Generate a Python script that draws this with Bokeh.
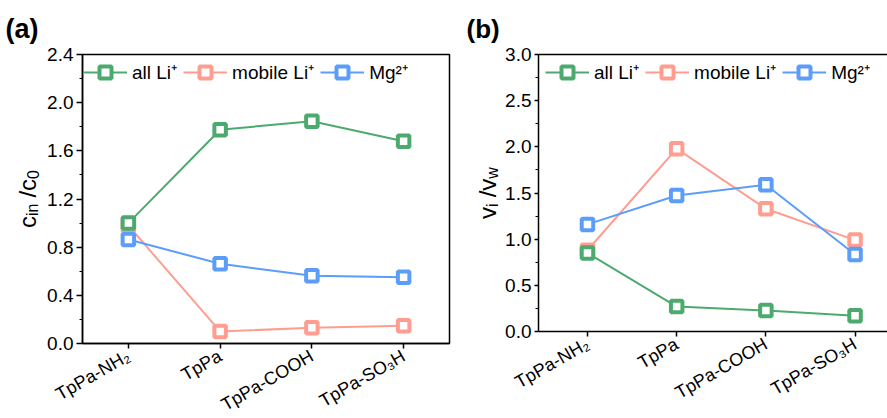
import math
from bokeh.plotting import figure
from bokeh.models import (Legend, LegendItem, Title, LinearAxis, FixedTicker,
                          PrintfTickFormatter, Range1d)
from bokeh.core.properties import value
from bokeh.layouts import row
from bokeh.embed import file_html
from bokeh.resources import INLINE

# ---------------- data ----------------
categories = ["TpPa-NH₂", "TpPa", "TpPa-COOH", "TpPa-SO₃H"]
series_names = ["all Li⁺", "mobile Li⁺", "Mg²⁺"]

# panel (a): c_in / c_0
a_all_li = [1.00, 1.775, 1.846, 1.68]
a_mobile_li = [0.98, 0.10, 0.13, 0.147]
a_mg = [0.864, 0.662, 0.562, 0.551]
a_yticks = [0.0, 0.4, 0.8, 1.2, 1.6, 2.0, 2.4]
a_yminor = [0.2, 0.6, 1.0, 1.4, 1.8, 2.2]

# panel (b): v_i / v_w
b_all_li = [0.85, 0.27, 0.227, 0.17]
b_mobile_li = [0.88, 1.98, 1.33, 0.99]
b_mg = [1.16, 1.473, 1.589, 0.834]
b_yticks = [0.0, 0.5, 1.0, 1.5, 2.0, 2.5, 3.0]
b_yminor = [0.25, 0.75, 1.25, 1.75, 2.25, 2.75]

GREEN = "#4DAA6F"
SALMON = "#FF9E90"
BLUE = "#5C9DFA"
FONT = "Liberation Sans"

CW = {"c": 0.5, "v": 0.5, "i": 0.222, "n": 0.556, "/": 0.278, "w": 0.722, "0": 0.556}


def text_w(s, size):
    return sum(CW.get(ch, 0.556) for ch in s) * size


def label_strip(tag, tag_off, tag_size, width, fh, bb, pieces, base_x):
    """Narrow figure holding the panel tag and the rotated y-axis title with subscripts."""
    s = figure(frame_width=width, frame_height=fh, x_range=Range1d(0, width),
               y_range=Range1d(0, fh), output_backend="svg", toolbar_location=None,
               min_border_left=0, min_border_right=0, min_border_top=54,
               min_border_bottom=bb, x_axis_location=None, y_axis_location=None,
               title=None)
    s.outline_line_color = None
    s.xgrid.visible = False
    s.ygrid.visible = False
    s.background_fill_color = "white"
    s.border_fill_color = "white"
    s.add_layout(Title(text=tag, align="left", offset=tag_off, text_font=FONT,
                       text_font_style="bold", text_font_size=f"{tag_size}px",
                       text_color="black", standoff=22), "above")
    total = sum(gap + text_w(t, sz) for t, sz, sub, gap in pieces)
    y = fh / 2 - total / 2
    for t, sz, sub, gap in pieces:
        y += gap
        s.text(x=[base_x + (5 if sub else 0)], y=[y], text=[t], angle=math.pi / 2,
               text_font=value(FONT), text_font_size=value(f"{sz}px"),
               text_color="black", text_align="left", text_baseline="alphabetic")
        y += text_w(t, sz)
    return s


def make_panel(vals, y_end, yticks, yminor, x_rng, fw, fh, bl, br, bb,
               legend_loc, ytick_out, boxed):
    x = list(range(len(categories)))
    p = figure(frame_width=fw, frame_height=fh, x_range=Range1d(*x_rng),
               y_range=Range1d(0, y_end), output_backend="svg", toolbar_location=None,
               min_border_left=bl, min_border_right=br, min_border_top=54,
               min_border_bottom=bb, title=None)
    p.xgrid.visible = False
    p.ygrid.visible = False
    p.background_fill_color = "white"
    p.border_fill_color = "white"

    xa = p.below[0]
    xa.ticker = FixedTicker(ticks=x, minor_ticks=[])
    xa.major_label_overrides = {i: c for i, c in zip(x, categories)}
    xa.major_label_orientation = math.radians(30)
    xa.major_tick_out = 5
    xa.major_tick_in = 0
    xa.axis_line_width = 1.5
    xa.major_tick_line_width = 1.5
    xa.major_label_text_font = FONT
    xa.major_label_text_font_size = "18px"
    xa.major_label_text_color = "black"
    xa.major_label_standoff = 6

    ya = p.left[0]
    ya.ticker = FixedTicker(ticks=yticks, minor_ticks=yminor)
    ya.formatter = PrintfTickFormatter(format="%.1f")
    ya.major_tick_out = ytick_out
    ya.major_tick_in = 0
    ya.minor_tick_out = 3
    ya.minor_tick_in = 0
    ya.axis_line_width = 1.5
    ya.major_tick_line_width = 1.5
    ya.minor_tick_line_width = 1.2
    ya.major_label_text_font = FONT
    ya.major_label_text_font_size = "19px"
    ya.major_label_text_color = "black"
    ya.major_label_standoff = 3

    if boxed:
        p.outline_line_color = "black"
        p.outline_line_width = 1.5
    else:
        p.outline_line_color = None
        top = LinearAxis(ticker=FixedTicker(ticks=[], minor_ticks=[]), axis_line_width=1.5,
                         axis_line_color="black", major_tick_line_color=None,
                         minor_tick_line_color=None, major_label_text_font_size="0px")
        p.add_layout(top, "above")

    colors = [GREEN, SALMON, BLUE]
    lines = {}
    for k in (1, 0, 2):
        lines[k] = p.line(x, vals[k], line_color=colors[k], line_width=2)
    marks = {}
    for k in (1, 0, 2):
        marks[k] = p.scatter(x, vals[k], marker="square", size=11.5, line_width=4,
                             line_color=colors[k], fill_color="white")

    items = [LegendItem(label=series_names[k], renderers=[lines[k], marks[k]]) for k in range(3)]
    leg = Legend(items=items, location=legend_loc, orientation="horizontal",
                 glyph_width=44, glyph_height=30, label_height=30, label_standoff=5,
                 spacing=6, padding=0, margin=0, background_fill_alpha=0,
                 border_line_color=None, label_text_font=FONT,
                 label_text_font_size="19px", label_text_color="black")
    p.add_layout(leg)
    return p


sa = label_strip("(a)", 5, 27, 44, 289, 75,
                 [("c", 24, False, 0), ("in", 16, True, 0), ("/c", 24, False, 6),
                  ("0", 16, True, 0)], 27)
pa = make_panel([a_all_li, a_mobile_li, a_mg], 2.4, a_yticks, a_yminor,
                (-0.5, 3.5), 367, 289, 38, 7, 75, (1, 256), 6, True)
sb = label_strip("(b)", 10, 26, 46, 277, 87,
                 [("v", 24, False, 0), ("i", 16, True, 0), ("/v", 24, False, 6),
                  ("w", 16, True, 0)], 31)
pb = make_panel([b_all_li, b_mobile_li, b_mg], 3.0, b_yticks, b_yminor,
                (-0.549, 3.386), 351, 277, 34, 0, 87, (7, 244), 4, False)

layout = row(sa, pa, sb, pb)
open("out.html", "w").write(file_html(layout, INLINE))
